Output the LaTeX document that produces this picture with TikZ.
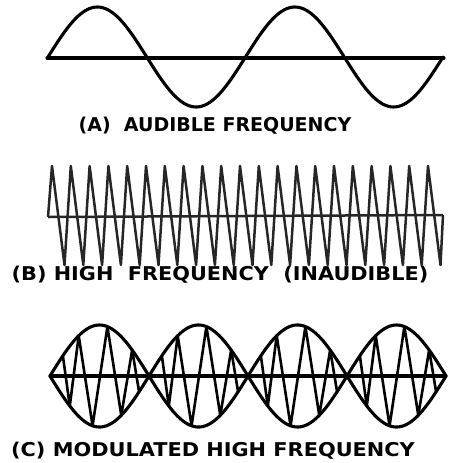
\documentclass[tikz,border=0pt]{standalone}
\usepackage{fontspec}
\setmainfont{DejaVu Sans}
\tikzset{
    wave/.style = {line width=3.1pt, line join=round, line cap=round},
    carrier/.style = {line width=2.5pt, line join=round, draw=black!85},
    caption/.style = {inner sep=0pt, font=\bfseries\fontsize{19}{19}\selectfont}
}
\begin{document}
\begin{tikzpicture}[x=1pt, y=-1pt]
            \useasboundingbox (0,0) rectangle (448,463);
            % (A) audible frequency
            \draw[wave] (47,58) -- (444,58);
            \draw[wave] plot[domain=48:443, samples=160] (\x, {57-50*sin(1.8228*(\x-48))});
            \node[caption] (capA) at (215,126) {(A)\ \ AUDIBLE FREQUENCY};
            % (B) high frequency
            \draw[carrier] (48,217) -- (443,215);
            \draw[carrier] (48,217)
                \foreach \k in {0,...,20} { -- ({52+18.8*\k},166) -- ({64.5+18.8*\k},265) }
                -- (443,215);
            \node[caption, xscale=1.095] (capB) at (220,275) {(B) HIGH\ \ FREQUENCY\ \ (INAUDIBLE)};
            % (C) modulated high frequency
            \draw[wave] (50,376) -- (446,376);
            \draw[wave] plot[domain=50:446, samples=200] (\x, {376-51*sin(1.8182*(\x-50))});
            \draw[wave] plot[domain=50:446, samples=200] (\x, {376+51*sin(1.8182*(\x-50))});
            \foreach \j in {0,...,3} {
                \draw[wave, line width=2.6pt]
                    ({50+99*\j+99*0.13},{376-51*sin(180*0.13)})
                    \foreach \t/\s in {0.20/1, 0.29/-1, 0.43/1, 0.58/-1, 0.72/1, 0.83/-1, 0.90/1}
                    { -- ({50+99*\j+99*\t},{376+\s*51*sin(180*\t)}) };
            }
            \node[caption, xscale=1.098] (capC) at (213,451) {(C) MODULATED HIGH FREQUENCY};
        \end{tikzpicture}
\end{document}
